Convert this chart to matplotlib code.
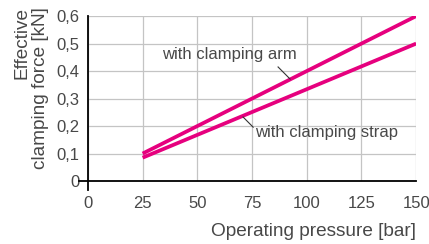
import matplotlib
matplotlib.use("Agg")
import matplotlib.pyplot as plt
from matplotlib.ticker import FuncFormatter

# dati
pressione = [25, 150]
forza_braccio = [0.10, 0.60]   # with clamping arm
forza_staffa = [0.085, 0.50]   # with clamping strap
x_ticks = [0, 25, 50, 75, 100, 125, 150]
y_ticks = [0, 0.1, 0.2, 0.3, 0.4, 0.5, 0.6]

plt.rcParams['font.family'] = ['Liberation Sans', 'DejaVu Sans']
grigio_testo = '#484848'
magenta = '#e6007e'

fig = plt.figure(figsize=(4.29, 2.44), dpi=100)
ax = fig.add_axes([0.205, 0.258, 0.765, 0.676])

ax.plot(pressione, forza_braccio, color=magenta, lw=2.7, solid_capstyle='butt', zorder=3)
ax.plot(pressione, forza_staffa, color=magenta, lw=2.7, solid_capstyle='butt', zorder=3)

ax.set_xlim(0, 150)
ax.set_ylim(0, 0.6)
ax.set_xticks(x_ticks)
ax.set_yticks(y_ticks)
ax.yaxis.set_major_formatter(FuncFormatter(lambda v, p: '0' if v == 0 else ('%.1f' % v).replace('.', ',')))
ax.grid(True, color='#c4c4c4', lw=0.9)
ax.set_axisbelow(True)
ax.tick_params(length=0, labelsize=12, colors=grigio_testo)
ax.tick_params(axis='x', pad=10.5)
ax.tick_params(axis='y', pad=6)

for s in ['top', 'right']:
    ax.spines[s].set_visible(False)
ax.spines['left'].set_bounds(-0.034, 0.6)
ax.spines['bottom'].set_bounds(-4.1, 150)
ax.spines['left'].set_linewidth(1.3)
ax.spines['bottom'].set_linewidth(1.3)

ax.set_xlabel('Operating pressure [bar]', fontsize=13.7, color=grigio_testo, loc='right', labelpad=9)
fig.text(31 / 429, 1 - 7 / 244, 'Effective\nclamping force [kN]', fontsize=13.7, color=grigio_testo,
         rotation=90, ha='center', va='top', multialignment='right', linespacing=1.15)

# etichette con linee di richiamo
ax.plot([86.9, 92.4], [0.415, 0.371], color='#333333', lw=0.8, zorder=4)
ax.text(95.5, 0.462, 'with clamping arm', fontsize=12, color=grigio_testo, ha='right', va='center')
ax.plot([70.9, 75.5], [0.233, 0.196], color='#333333', lw=0.8, zorder=4)
ax.text(76.4, 0.178, 'with clamping strap', fontsize=12, color=grigio_testo, ha='left', va='center')

fig.savefig('out.png', dpi=100)
